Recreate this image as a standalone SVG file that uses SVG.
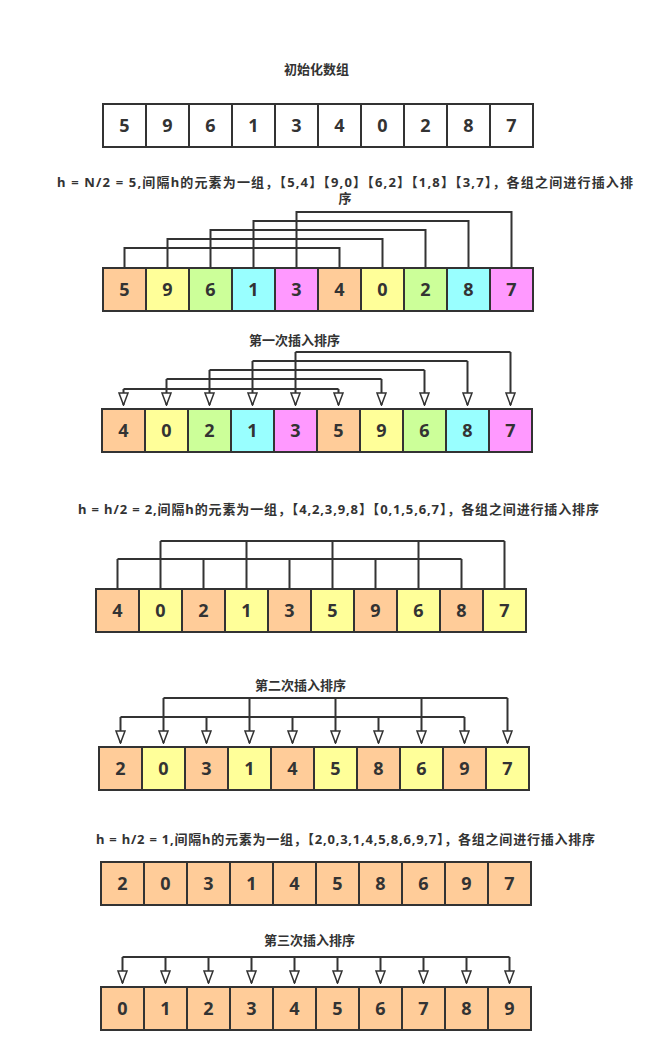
<svg xmlns="http://www.w3.org/2000/svg" width="667" height="1062" viewBox="0 0 667 1062">
<style>
.bg{fill:#ffffff}
.cell{stroke:#333333;stroke-width:2}
.w{fill:#ffffff}
.o{fill:#FFCC99}
.y{fill:#FFFF99}
.g{fill:#CCFF99}
.c{fill:#99FFFF}
.m{fill:#FF99FF}
.num{font-family:"Noto Sans","Noto Sans CJK SC",sans-serif;font-weight:bold;font-size:18px;fill:#333333;text-anchor:middle}
.title{font-family:"Noto Sans","Noto Sans CJK SC",sans-serif;font-weight:bold;font-size:13px;fill:#333333;text-anchor:middle}
.ln{fill:none;stroke:#333333;stroke-width:2}
.ar{fill:none;stroke:#333333;stroke-width:2;marker-end:url(#tri)}
</style>
<defs>
<marker id="tri" markerUnits="userSpaceOnUse" markerWidth="14" markerHeight="11" viewBox="0 0 14 11" refX="13" refY="5.5" orient="auto">
<path d="M1,1 L13,5.5 L1,10 Z" fill="#ffffff" stroke="#333333" stroke-width="1.5"/>
</marker>
</defs>
<rect class="bg" x="0" y="0" width="667" height="1062"/>

<g id="titles">
<text class="title" x="316.5" y="74">初始化数组</text>
<text class="title" x="345" y="187" textLength="576" lengthAdjust="spacing">h = N/2 = 5,间隔h的元素为一组，【5,4】【9,0】【6,2】【1,8】【3,7】，各组之间进行插入排</text>
<text class="title" x="345" y="203">序</text>
<text class="title" x="294.5" y="345">第一次插入排序</text>
<text class="title" x="338.5" y="514" textLength="521" lengthAdjust="spacing">h = h/2 = 2,间隔h的元素为一组，【4,2,3,9,8】【0,1,5,6,7】，各组之间进行插入排序</text>
<text class="title" x="300.5" y="690">第二次插入排序</text>
<text class="title" x="345.5" y="844" textLength="499" lengthAdjust="spacing">h = h/2 = 1,间隔h的元素为一组，【2,0,3,1,4,5,8,6,9,7】，各组之间进行插入排序</text>
<text class="title" x="309.5" y="945">第三次插入排序</text>
</g>

<g id="connectors">
<path class="ln" d="M124.5,268 V248 H339.5 V268"/>
<path class="ln" d="M167.5,268 V239 H382.5 V268"/>
<path class="ln" d="M210.5,268 V230 H425.5 V268"/>
<path class="ln" d="M253.5,268 V221 H468.5 V268"/>
<path class="ln" d="M296.5,268 V212 H511.5 V268"/>
<path class="ln" d="M295.5,352 H510.5"/>
<path class="ln" d="M252.5,361 H467.5"/>
<path class="ln" d="M209.5,370 H424.5"/>
<path class="ln" d="M166.5,379 H381.5"/>
<path class="ln" d="M123.5,389 H338.5"/>
<path class="ar" d="M295.5,352 V405"/>
<path class="ar" d="M510.5,352 V405"/>
<path class="ar" d="M252.5,361 V405"/>
<path class="ar" d="M467.5,361 V405"/>
<path class="ar" d="M209.5,370 V405"/>
<path class="ar" d="M424.5,370 V405"/>
<path class="ar" d="M166.5,379 V405"/>
<path class="ar" d="M381.5,379 V405"/>
<path class="ar" d="M123.5,389 V405"/>
<path class="ar" d="M338.5,389 V405"/>
<path class="ln" d="M160.5,541 H504.5"/>
<path class="ln" d="M117.5,559 H461.5"/>
<path class="ln" d="M160.5,541 V589 M246.5,541 V589 M332.5,541 V589 M418.5,541 V589 M504.5,541 V589"/>
<path class="ln" d="M117.5,559 V589 M203.5,559 V589 M289.5,559 V589 M375.5,559 V589 M461.5,559 V589"/>
<path class="ln" d="M163.5,698 H507.5"/>
<path class="ln" d="M120.5,717 H464.5"/>
<path class="ar" d="M163.5,698 V743"/>
<path class="ar" d="M249.5,698 V743"/>
<path class="ar" d="M335.5,698 V743"/>
<path class="ar" d="M421.5,698 V743"/>
<path class="ar" d="M507.5,698 V743"/>
<path class="ar" d="M120.5,717 V743"/>
<path class="ar" d="M206.5,717 V743"/>
<path class="ar" d="M292.5,717 V743"/>
<path class="ar" d="M378.5,717 V743"/>
<path class="ar" d="M464.5,717 V743"/>
<path class="ln" d="M122.5,957 H509.5"/>
<path class="ar" d="M122.5,957 V983"/>
<path class="ar" d="M165.5,957 V983"/>
<path class="ar" d="M208.5,957 V983"/>
<path class="ar" d="M251.5,957 V983"/>
<path class="ar" d="M294.5,957 V983"/>
<path class="ar" d="M337.5,957 V983"/>
<path class="ar" d="M380.5,957 V983"/>
<path class="ar" d="M423.5,957 V983"/>
<path class="ar" d="M466.5,957 V983"/>
<path class="ar" d="M509.5,957 V983"/>
</g>

<g id="row1">
<rect class="cell w" x="103" y="104" width="43" height="43"/><rect class="cell w" x="146" y="104" width="43" height="43"/><rect class="cell w" x="189" y="104" width="43" height="43"/><rect class="cell w" x="232" y="104" width="43" height="43"/><rect class="cell w" x="275" y="104" width="43" height="43"/><rect class="cell w" x="318" y="104" width="43" height="43"/><rect class="cell w" x="361" y="104" width="43" height="43"/><rect class="cell w" x="404" y="104" width="43" height="43"/><rect class="cell w" x="447" y="104" width="43" height="43"/><rect class="cell w" x="490" y="104" width="43" height="43"/>
<text class="num" x="124.5" y="132">5</text><text class="num" x="167.5" y="132">9</text><text class="num" x="210.5" y="132">6</text><text class="num" x="253.5" y="132">1</text><text class="num" x="296.5" y="132">3</text><text class="num" x="339.5" y="132">4</text><text class="num" x="382.5" y="132">0</text><text class="num" x="425.5" y="132">2</text><text class="num" x="468.5" y="132">8</text><text class="num" x="511.5" y="132">7</text>
</g>

<g id="row2">
<rect class="cell o" x="103" y="268" width="43" height="43"/><rect class="cell y" x="146" y="268" width="43" height="43"/><rect class="cell g" x="189" y="268" width="43" height="43"/><rect class="cell c" x="232" y="268" width="43" height="43"/><rect class="cell m" x="275" y="268" width="43" height="43"/><rect class="cell o" x="318" y="268" width="43" height="43"/><rect class="cell y" x="361" y="268" width="43" height="43"/><rect class="cell g" x="404" y="268" width="43" height="43"/><rect class="cell c" x="447" y="268" width="43" height="43"/><rect class="cell m" x="490" y="268" width="43" height="43"/>
<text class="num" x="124.5" y="296">5</text><text class="num" x="167.5" y="296">9</text><text class="num" x="210.5" y="296">6</text><text class="num" x="253.5" y="296">1</text><text class="num" x="296.5" y="296">3</text><text class="num" x="339.5" y="296">4</text><text class="num" x="382.5" y="296">0</text><text class="num" x="425.5" y="296">2</text><text class="num" x="468.5" y="296">8</text><text class="num" x="511.5" y="296">7</text>
</g>

<g id="row3">
<rect class="cell o" x="102" y="409" width="43" height="43"/><rect class="cell y" x="145" y="409" width="43" height="43"/><rect class="cell g" x="188" y="409" width="43" height="43"/><rect class="cell c" x="231" y="409" width="43" height="43"/><rect class="cell m" x="274" y="409" width="43" height="43"/><rect class="cell o" x="317" y="409" width="43" height="43"/><rect class="cell y" x="360" y="409" width="43" height="43"/><rect class="cell g" x="403" y="409" width="43" height="43"/><rect class="cell c" x="446" y="409" width="43" height="43"/><rect class="cell m" x="489" y="409" width="43" height="43"/>
<text class="num" x="123.5" y="437">4</text><text class="num" x="166.5" y="437">0</text><text class="num" x="209.5" y="437">2</text><text class="num" x="252.5" y="437">1</text><text class="num" x="295.5" y="437">3</text><text class="num" x="338.5" y="437">5</text><text class="num" x="381.5" y="437">9</text><text class="num" x="424.5" y="437">6</text><text class="num" x="467.5" y="437">8</text><text class="num" x="510.5" y="437">7</text>
</g>

<g id="row4">
<rect class="cell o" x="96" y="589" width="43" height="43"/><rect class="cell y" x="139" y="589" width="43" height="43"/><rect class="cell o" x="182" y="589" width="43" height="43"/><rect class="cell y" x="225" y="589" width="43" height="43"/><rect class="cell o" x="268" y="589" width="43" height="43"/><rect class="cell y" x="311" y="589" width="43" height="43"/><rect class="cell o" x="354" y="589" width="43" height="43"/><rect class="cell y" x="397" y="589" width="43" height="43"/><rect class="cell o" x="440" y="589" width="43" height="43"/><rect class="cell y" x="483" y="589" width="43" height="43"/>
<text class="num" x="117.5" y="617">4</text><text class="num" x="160.5" y="617">0</text><text class="num" x="203.5" y="617">2</text><text class="num" x="246.5" y="617">1</text><text class="num" x="289.5" y="617">3</text><text class="num" x="332.5" y="617">5</text><text class="num" x="375.5" y="617">9</text><text class="num" x="418.5" y="617">6</text><text class="num" x="461.5" y="617">8</text><text class="num" x="504.5" y="617">7</text>
</g>

<g id="row5">
<rect class="cell o" x="99" y="747" width="43" height="43"/><rect class="cell y" x="142" y="747" width="43" height="43"/><rect class="cell o" x="185" y="747" width="43" height="43"/><rect class="cell y" x="228" y="747" width="43" height="43"/><rect class="cell o" x="271" y="747" width="43" height="43"/><rect class="cell y" x="314" y="747" width="43" height="43"/><rect class="cell o" x="357" y="747" width="43" height="43"/><rect class="cell y" x="400" y="747" width="43" height="43"/><rect class="cell o" x="443" y="747" width="43" height="43"/><rect class="cell y" x="486" y="747" width="43" height="43"/>
<text class="num" x="120.5" y="775">2</text><text class="num" x="163.5" y="775">0</text><text class="num" x="206.5" y="775">3</text><text class="num" x="249.5" y="775">1</text><text class="num" x="292.5" y="775">4</text><text class="num" x="335.5" y="775">5</text><text class="num" x="378.5" y="775">8</text><text class="num" x="421.5" y="775">6</text><text class="num" x="464.5" y="775">9</text><text class="num" x="507.5" y="775">7</text>
</g>

<g id="row6">
<rect class="cell o" x="101" y="862" width="43" height="43"/><rect class="cell o" x="144" y="862" width="43" height="43"/><rect class="cell o" x="187" y="862" width="43" height="43"/><rect class="cell o" x="230" y="862" width="43" height="43"/><rect class="cell o" x="273" y="862" width="43" height="43"/><rect class="cell o" x="316" y="862" width="43" height="43"/><rect class="cell o" x="359" y="862" width="43" height="43"/><rect class="cell o" x="402" y="862" width="43" height="43"/><rect class="cell o" x="445" y="862" width="43" height="43"/><rect class="cell o" x="488" y="862" width="43" height="43"/>
<text class="num" x="122.5" y="890">2</text><text class="num" x="165.5" y="890">0</text><text class="num" x="208.5" y="890">3</text><text class="num" x="251.5" y="890">1</text><text class="num" x="294.5" y="890">4</text><text class="num" x="337.5" y="890">5</text><text class="num" x="380.5" y="890">8</text><text class="num" x="423.5" y="890">6</text><text class="num" x="466.5" y="890">9</text><text class="num" x="509.5" y="890">7</text>
</g>

<g id="row7">
<rect class="cell o" x="101" y="987" width="43" height="43"/><rect class="cell o" x="144" y="987" width="43" height="43"/><rect class="cell o" x="187" y="987" width="43" height="43"/><rect class="cell o" x="230" y="987" width="43" height="43"/><rect class="cell o" x="273" y="987" width="43" height="43"/><rect class="cell o" x="316" y="987" width="43" height="43"/><rect class="cell o" x="359" y="987" width="43" height="43"/><rect class="cell o" x="402" y="987" width="43" height="43"/><rect class="cell o" x="445" y="987" width="43" height="43"/><rect class="cell o" x="488" y="987" width="43" height="43"/>
<text class="num" x="122.5" y="1015">0</text><text class="num" x="165.5" y="1015">1</text><text class="num" x="208.5" y="1015">2</text><text class="num" x="251.5" y="1015">3</text><text class="num" x="294.5" y="1015">4</text><text class="num" x="337.5" y="1015">5</text><text class="num" x="380.5" y="1015">6</text><text class="num" x="423.5" y="1015">7</text><text class="num" x="466.5" y="1015">8</text><text class="num" x="509.5" y="1015">9</text>
</g>
</svg>
